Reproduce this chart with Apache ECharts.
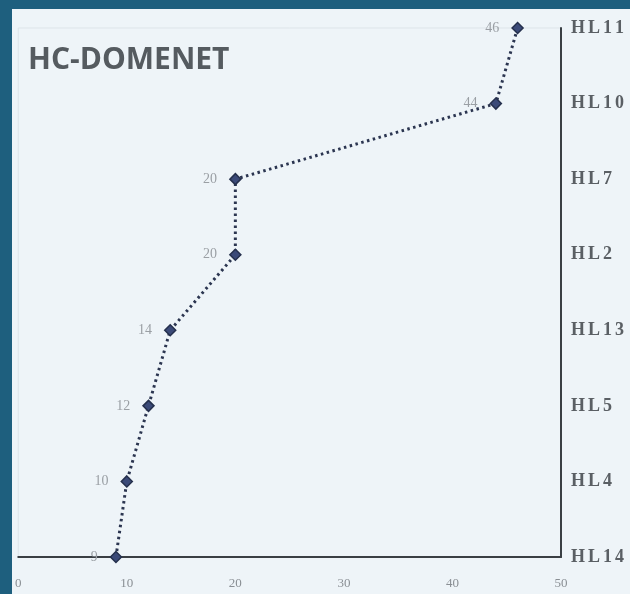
<!DOCTYPE html>
<html>
<head>
<meta charset="utf-8">
<script src="https://cdn.jsdelivr.net/npm/echarts@6/dist/echarts.min.js"></script>
<style>
html,body{margin:0;padding:0;width:630px;height:594px;background:#1e5f7e;overflow:hidden;}
#c{position:absolute;left:12px;top:9px;width:618px;height:585px;background:#eef4f8;}
</style>
</head>
<body>
<div id="c"></div>
<script>
const categories = ['HL14','HL4','HL5','HL13','HL2','HL7','HL10','HL11'];
const values = [9, 10, 12, 14, 20, 20, 44, 46];
const xTicks = [0, 10, 20, 30, 40, 50];

const chart = echarts.init(document.getElementById('c'));
chart.setOption({
  backgroundColor: 'transparent',
  animation: false,
  title: {
    text: 'HC-DOMENET',
    left: 11, top: 31,
    textStyle: {fontFamily: 'Open Sans', fontWeight: 'bold', fontSize: 30, color: '#555b60'}
  },
  grid: {left: 5, right: 69, top: 19, bottom: 37, show: true, borderColor: '#dde4e9', borderWidth: 1},
  xAxis: {
    type: 'value', min: 0, max: 50, interval: 10,
    axisLine: {show: true, onZero: false, lineStyle: {color: '#3a3f44', width: 2}},
    axisTick: {show: false},
    splitLine: {show: false},
    axisLabel: {
      fontFamily: 'Liberation Serif', fontSize: 13, color: '#8a8f94', margin: 20,
      formatter: v => xTicks.includes(v) ? String(v) : ''
    }
  },
  yAxis: {
    type: 'category', data: categories, position: 'right', boundaryGap: false,
    axisLine: {show: true, onZero: false, lineStyle: {color: '#3a3f44', width: 2}},
    axisTick: {show: false},
    splitLine: {show: false},
    axisLabel: {
      fontFamily: 'Liberation Serif', fontWeight: 'bold', fontSize: 18, color: '#5a5f64', margin: 10,
      formatter: v => v.split('').join('\u2006')
    }
  },
  series: [{
    type: 'line',
    data: values,
    symbol: 'diamond',
    symbolSize: 11,
    lineStyle: {type: [2.5, 3.5], width: 3, color: '#2b3550'},
    itemStyle: {color: '#3b4a78', borderColor: '#25304d', borderWidth: 1.5},
    label: {
      show: true, position: 'left', distance: 12,
      fontFamily: 'Liberation Serif', fontSize: 14, color: '#9a9fa4'
    }
  }]
});
</script>
</body>
</html>
